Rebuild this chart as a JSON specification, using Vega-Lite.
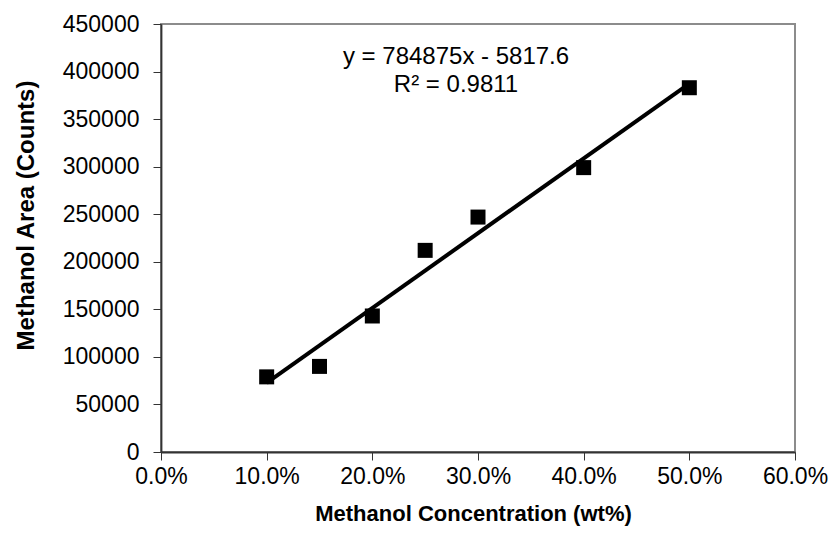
{
  "$schema": "https://vega.github.io/schema/vega-lite/v6.json",
  "autosize": {"type": "none"},
  "padding": {"left": 161, "top": 24, "right": 38, "bottom": 103},
  "width": 634,
  "height": 428,
  "background": "white",
  "config": {
    "view": {"stroke": "#8c8c8c", "strokeWidth": 2},
    "font": "Liberation Sans",
    "axis": {
      "grid": false,
      "domainColor": "#333333",
      "domainWidth": 1.8,
      "tickColor": "#333333",
      "tickSize": 8,
      "labelFont": "Liberation Sans",
      "labelFontSize": 23,
      "labelColor": "black",
      "labelFlush": false,
      "labelOverlap": false,
      "titleFont": "Liberation Sans",
      "titleColor": "black",
      "titleFontWeight": "bold"
    }
  },
  "datasets": {
    "points": [
      {"conc": 0.10, "area": 79000},
      {"conc": 0.15, "area": 90000},
      {"conc": 0.20, "area": 143000},
      {"conc": 0.25, "area": 212000},
      {"conc": 0.30, "area": 247000},
      {"conc": 0.40, "area": 299000},
      {"conc": 0.50, "area": 383000}
    ],
    "labels": [
      {"label": "y = 784875x - 5817.6", "lx": 0.2792, "ly": 415300},
      {"label": "R² = 0.9811", "lx": 0.2792, "ly": 385900}
    ]
  },
  "layer": [
    {
      "data": {"name": "points"},
      "transform": [{"regression": "area", "on": "conc"}],
      "mark": {"type": "line", "color": "black", "strokeWidth": 4},
      "encoding": {
        "x": {"field": "conc", "type": "quantitative"},
        "y": {"field": "area", "type": "quantitative"}
      }
    },
    {
      "data": {"name": "points"},
      "mark": {"type": "point", "shape": "square", "filled": true, "color": "black", "opacity": 1, "size": 225},
      "encoding": {
        "x": {
          "field": "conc",
          "type": "quantitative",
          "scale": {"domain": [0, 0.6], "nice": false},
          "axis": {
            "title": "Methanol Concentration (wt%)",
            "format": ".1%",
            "values": [0, 0.1, 0.2, 0.3, 0.4, 0.5, 0.6],
            "labelPadding": 5,
            "titleFontSize": 22,
            "titleX": 312,
            "titleY": 61,
            "titleBaseline": "middle",
            "titleAlign": "center"
          }
        },
        "y": {
          "field": "area",
          "type": "quantitative",
          "scale": {"domain": [0, 450000], "nice": false},
          "axis": {
            "title": "Methanol Area (Counts)",
            "format": "d",
            "values": [0, 50000, 100000, 150000, 200000, 250000, 300000, 350000, 400000, 450000],
            "labelPadding": 14,
            "titleFontSize": 24,
            "titleAngle": -90,
            "titleX": -135,
            "titleY": 191,
            "titleBaseline": "middle",
            "titleAlign": "center"
          }
        }
      }
    },
    {
      "data": {"name": "labels"},
      "mark": {"type": "text", "fontSize": 24, "font": "Liberation Sans", "color": "black", "align": "center", "baseline": "middle"},
      "encoding": {
        "text": {"field": "label"},
        "x": {"field": "lx", "type": "quantitative"},
        "y": {"field": "ly", "type": "quantitative"}
      }
    }
  ]
}
